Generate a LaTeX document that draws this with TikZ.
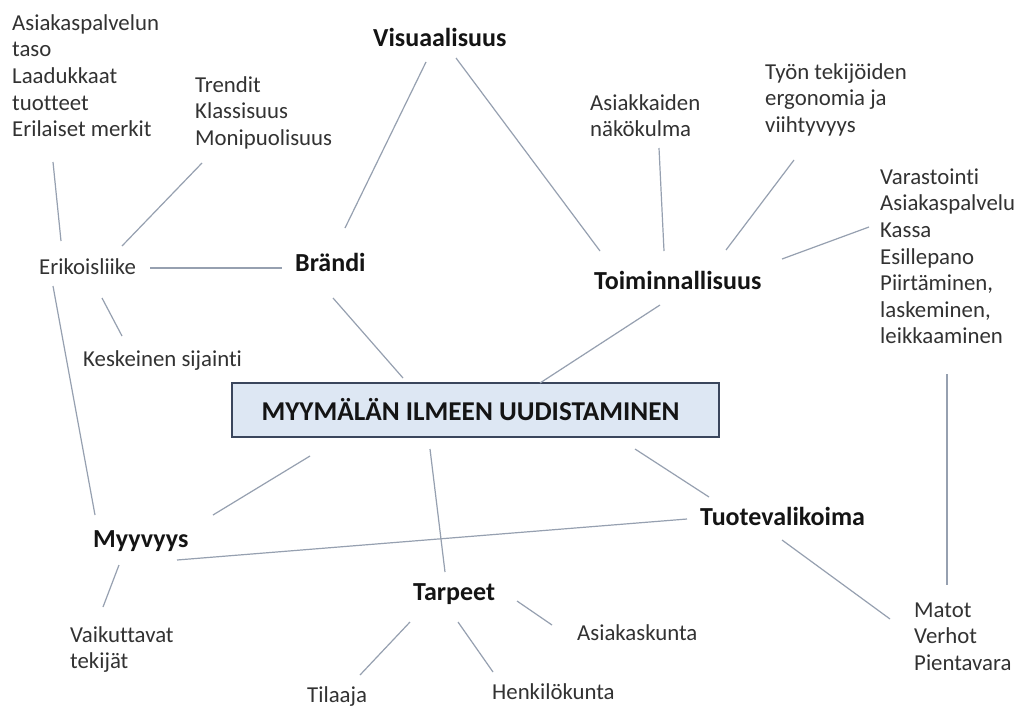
\documentclass[tikz,border=0pt]{standalone}
\usepackage{fontspec}
\setmainfont{Carlito}[Ligatures=NoCommon]
\definecolor{txtc}{RGB}{50,50,50}
\definecolor{hdc}{RGB}{20,20,20}
\definecolor{linec}{RGB}{150,160,176}
\definecolor{boxfill}{RGB}{221,231,243}
\definecolor{boxdraw}{RGB}{58,70,92}
\begin{document}
\begin{tikzpicture}[x=1pt,y=-1pt,
  lbl/.style={font=\fontsize{22.8}{26.6}\selectfont, text=txtc, align=left, inner sep=0pt, anchor=north west},
  hd/.style={font=\fontsize{26}{30}\selectfont\bfseries, text=hdc, inner sep=0pt, anchor=base west},
  mainbox/.style={draw=boxdraw, fill=boxfill, line width=1.8pt, minimum width=487pt, minimum height=54pt, inner sep=0pt, font=\fontsize{27.2}{30}\selectfont\bfseries, text=hdc},
  conn/.style={draw=linec, line width=1.2pt}]
\useasboundingbox (0,0) rectangle (1024,709);
\fill[white] (0,0) rectangle (1024,709);

% text nodes
\node[lbl] (asp) at (12,11.4) {\strut Asiakaspalvelun\\taso\\Laadukkaat\\tuotteet\\Erilaiset merkit};
\node[lbl] (trend) at (195,73.4) {\strut Trendit\\Klassisuus\\Monipuolisuus};
\node[hd] (vis) at (373,46) {Visuaalisuus};
\node[lbl] (asiak) at (590,91.4) {\strut Asiakkaiden\\näkökulma};
\node[lbl] (tyon) at (765,60.4) {\strut Työn tekijöiden\\ergonomia ja\\viihtyvyys};
\node[lbl] (var) at (880,165.4) {\strut Varastointi\\Asiakaspalvelu\\Kassa\\Esillepano\\Piirtäminen,\\laskeminen,\\leikkaaminen};
\node[lbl] (erik) at (39,255.4) {\strut Erikoisliike};
\node[hd] (brandi) at (295,271) {Brändi};
\node[hd] (tomi) at (594,289) {Toiminnallisuus};
\node[lbl] (kesk) at (83,347.4) {\strut Keskeinen sijainti};
\node[mainbox] (main) at (475.5,410) {MYYMÄLÄN ILMEEN UUDISTAMINEN\hspace*{10pt}};
\node[hd] (myy) at (93,547) {Myyvyys};
\node[hd] (tuot) at (700,525) {Tuotevalikoima};
\node[hd] (tarp) at (413,600) {Tarpeet};
\node[lbl] (vaik) at (70,623.4) {\strut Vaikuttavat\\tekijät};
\node[lbl] (asiakk) at (577,621.4) {\strut Asiakaskunta};
\node[lbl] (henk) at (492,680.4) {\strut Henkilökunta};
\node[lbl] (tila) at (307,683.4) {\strut Tilaaja};
\node[lbl] (matot) at (914,598.4) {\strut Matot\\Verhot\\Pientavara};

% connector end points
\coordinate (asp-s) at (53,162);    \coordinate (erik-n1) at (61,241);
\coordinate (trend-s) at (202,163); \coordinate (erik-n2) at (122,246);
\coordinate (erik-e) at (150,268);  \coordinate (brandi-w) at (282,268);
\coordinate (brandi-n) at (345,228); \coordinate (vis-sw) at (426,62);
\coordinate (vis-se) at (456,58);   \coordinate (tomi-nw) at (600,251);
\coordinate (asiak-s) at (659,148); \coordinate (tomi-n) at (664,251);
\coordinate (tyon-s) at (794,160);  \coordinate (tomi-ne) at (726,250);
\coordinate (tomi-e) at (782,259);  \coordinate (var-w) at (869,227);
\coordinate (brandi-s) at (333,298); \coordinate (main-n1) at (403,378);
\coordinate (tomi-s) at (660,305);  \coordinate (main-n2) at (540,383);
\coordinate (erik-s1) at (102,298); \coordinate (kesk-n) at (122,336);
\coordinate (erik-s2) at (53,286);  \coordinate (myy-n1) at (95,515);
\coordinate (main-s1) at (310,456); \coordinate (myy-ne) at (213,515);
\coordinate (main-s2) at (430,449); \coordinate (tarp-n) at (445,572);
\coordinate (main-s3) at (635,449); \coordinate (tuot-nw) at (709,497);
\coordinate (var-s) at (947,374);   \coordinate (matot-n) at (947,585);
\coordinate (myy-e) at (177,560);   \coordinate (tuot-w) at (687,519);
\coordinate (myy-s) at (119,565);   \coordinate (vaik-n) at (103,607);
\coordinate (tarp-sw) at (410,622); \coordinate (tila-n) at (360,675);
\coordinate (tarp-s) at (458,622);  \coordinate (henk-n) at (493,672);
\coordinate (tarp-e) at (517,601);  \coordinate (asiakk-w) at (552,625);
\coordinate (tuot-s) at (782,540);  \coordinate (matot-nw) at (890,619);

% connectors
\draw[conn] (asp-s) -- (erik-n1);
\draw[conn] (trend-s) -- (erik-n2);
\draw[conn] (erik-e) -- (brandi-w);
\draw[conn] (brandi-n) -- (vis-sw);
\draw[conn] (vis-se) -- (tomi-nw);
\draw[conn] (asiak-s) -- (tomi-n);
\draw[conn] (tyon-s) -- (tomi-ne);
\draw[conn] (tomi-e) -- (var-w);
\draw[conn] (brandi-s) -- (main-n1);
\draw[conn] (tomi-s) -- (main-n2);
\draw[conn] (erik-s1) -- (kesk-n);
\draw[conn] (erik-s2) -- (myy-n1);
\draw[conn] (main-s1) -- (myy-ne);
\draw[conn] (main-s2) -- (tarp-n);
\draw[conn] (main-s3) -- (tuot-nw);
\draw[conn] (var-s) -- (matot-n);
\draw[conn] (myy-e) -- (tuot-w);
\draw[conn] (myy-s) -- (vaik-n);
\draw[conn] (tarp-sw) -- (tila-n);
\draw[conn] (tarp-s) -- (henk-n);
\draw[conn] (tarp-e) -- (asiakk-w);
\draw[conn] (tuot-s) -- (matot-nw);
\end{tikzpicture}
\end{document}
